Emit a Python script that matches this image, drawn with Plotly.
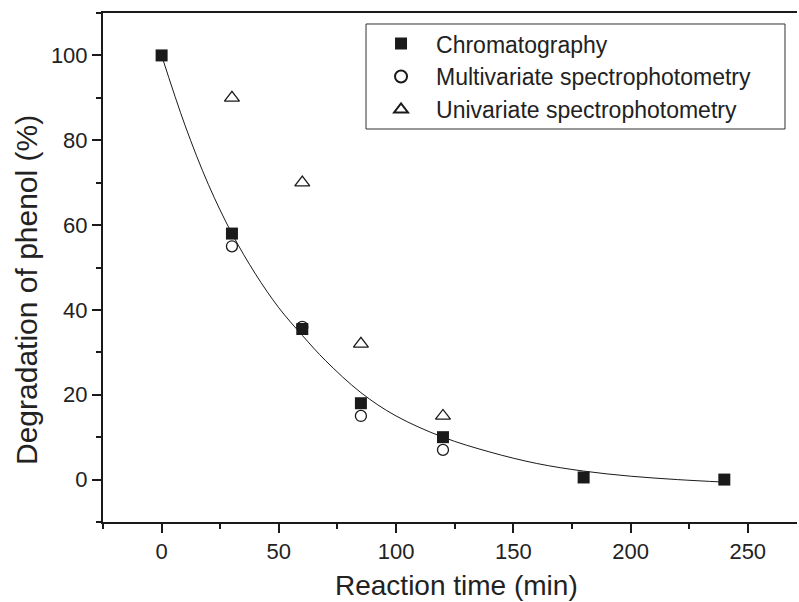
import plotly.graph_objects as go

# Data
time_chrom = [0, 30, 60, 85, 120, 180, 240]
chromatography = [100, 58, 35.5, 18, 10, 0.5, 0]

time_spec = [30, 60, 85, 120]
multivariate = [55, 36, 15, 7]
univariate = [90, 70, 32, 15]

# Fitted curve
fit_time = [0, 10, 20, 30, 40, 50, 60, 70, 85, 100, 120, 140, 160, 180, 200, 220, 240]
fit_value = [100, 83.5, 69.5, 58, 48.5, 40.5, 34, 28, 20.5, 15, 10, 6.5, 3.8, 2, 0.8, 0, -0.6]

x_ticks = [0, 50, 100, 150, 200, 250]
y_ticks = [0, 20, 40, 60, 80, 100]

x_title = "Reaction time (min)"
y_title = "Degradation of phenol (%)"

ink = "#1a1a1a"
text_color = "#222222"
font_family = "Liberation Sans, Arial, sans-serif"

fig = go.Figure()

fig.add_trace(go.Scatter(
    x=fit_time, y=fit_value, mode="lines", line=dict(color=ink, width=1, shape="spline", smoothing=1.0),
    showlegend=False, hoverinfo="skip"))

fig.add_trace(go.Scatter(
    x=time_chrom, y=chromatography, mode="markers", name="Chromatography",
    marker=dict(symbol="square", size=12, color=ink, line=dict(width=0))))

fig.add_trace(go.Scatter(
    x=time_spec, y=multivariate, mode="markers", name="Multivariate spectrophotometry",
    marker=dict(symbol="circle-open", size=11, color=ink, line=dict(width=1.3))))

fig.add_trace(go.Scatter(
    x=time_spec, y=univariate, mode="markers", name="Univariate spectrophotometry",
    marker=dict(symbol="triangle-up-open", size=13, color=ink, line=dict(width=1.3))))

fig.update_layout(
    width=799, height=602,
    margin=dict(l=103, r=2, t=13, b=80, autoexpand=False),
    paper_bgcolor="white", plot_bgcolor="white",
    font=dict(family=font_family, color=text_color),
    showlegend=True,
    legend=dict(
        x=0.379, y=0.982, xanchor="left", yanchor="top",
        borderwidth=0, bgcolor="rgba(0,0,0,0)",
        font=dict(size=23, family=font_family, color=text_color),
        itemsizing="constant", itemwidth=60,
    ),
    shapes=[dict(type="rect", xref="paper", yref="paper",
                 x0=0.379, x1=0.9827, y0=0.7721, y1=0.9784,
                 line=dict(color="#333333", width=1), fillcolor="rgba(0,0,0,0)", layer="below")],
    annotations=[
        dict(text=x_title, xref="paper", yref="paper", x=0.5094, y=-0.1238,
             xanchor="center", yanchor="middle", showarrow=False,
             font=dict(size=28, family=font_family, color=text_color)),
        dict(text=y_title, xref="paper", yref="paper", x=-0.1095, y=0.4558,
             xanchor="center", yanchor="middle", showarrow=False, textangle=-90,
             font=dict(size=30, family=font_family, color=text_color)),
    ],
    xaxis=dict(
        range=[-25, 271], tickvals=x_ticks, ticktext=[str(v) for v in x_ticks],
        showgrid=False, zeroline=False, automargin=False,
        showline=True, linecolor=ink, linewidth=2, mirror=True,
        ticks="outside", ticklen=9, tickwidth=2, tickcolor=ink,
        minor=dict(tickvals=[-25, 25, 75, 125, 175, 225], ticks="outside", ticklen=5, tickwidth=2, tickcolor=ink),
        tickfont=dict(size=22, family=font_family, color=text_color),
    ),
    yaxis=dict(
        range=[-10, 110], tickvals=y_ticks, ticktext=[str(v) for v in y_ticks],
        showgrid=False, zeroline=False, automargin=False,
        showline=True, linecolor=ink, linewidth=2, mirror=False,
        ticks="outside", ticklen=9, tickwidth=2, tickcolor=ink,
        minor=dict(tickvals=[-10, 10, 30, 50, 70, 90, 110], ticks="outside", ticklen=5, tickwidth=2, tickcolor=ink),
        tickfont=dict(size=22, family=font_family, color=text_color),
    ),
)

fig.write_html("out.html", config={"displayModeBar": False},
               post_script="document.body.style.margin='0';")
